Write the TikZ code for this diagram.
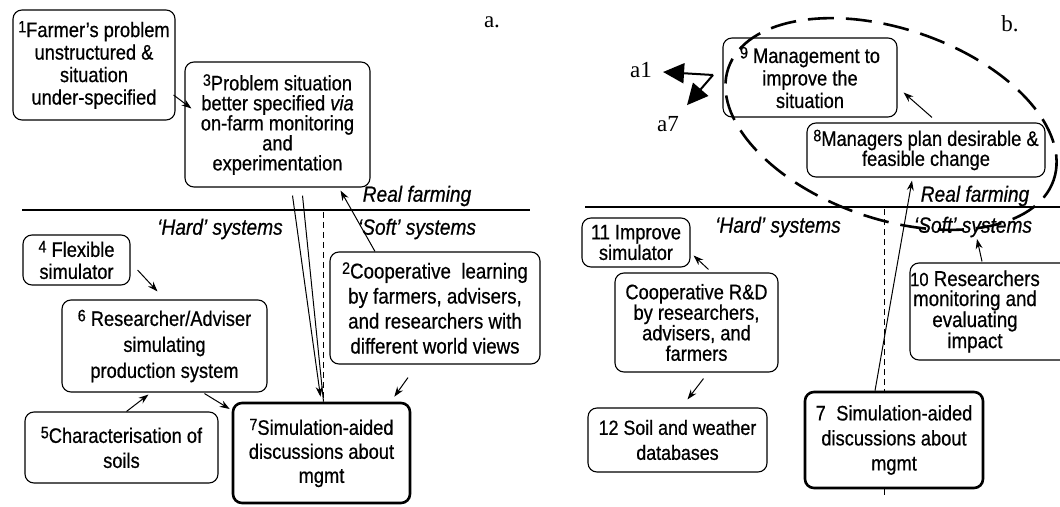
\documentclass[tikz,border=0pt]{standalone}
\usepackage{fontspec}
\setmainfont{Liberation Sans}[FakeStretch=0.87,FakeBold=0.6]
\newfontfamily\panelfont{Liberation Serif}
\usetikzlibrary{arrows.meta,calc}

% raised step number at the start of a box text
\newcommand\nb[1]{\raisebox{0.22em}{\fontsize{16.5}{16.5}\selectfont #1}}
% box text: size and line spacing
\newcommand\boxfont[2]{\fontsize{#1}{#2}\selectfont}

\tikzset{
  box/.style={draw, line width=1.1pt, rounded corners=9pt, inner sep=0pt,
    align=center, fill=white},
  boldbox/.style={box, line width=2.6pt},
  arr/.style={-{Stealth[length=10pt,width=7pt]}, line width=1pt},
  bigarr/.style={-{Triangle[length=21pt,width=20pt]}, line width=2pt},
  zone/.style={font=\fontsize{22}{22}\selectfont\itshape, inner sep=0pt},
  paneltag/.style={font=\panelfont\fontsize{23}{23}\selectfont, inner sep=0pt},
  divider/.style={line width=1.3pt},
  vsplit/.style={dash pattern=on 6pt off 4pt, line width=1pt},
  ring/.style={dash pattern=on 26pt off 12pt, line width=2.6pt}
}

\begin{document}
\begin{tikzpicture}[x=1pt,y=-1pt]
\useasboundingbox (0,0) rectangle (1060,506);

% ---------------- panel a ----------------
\draw[divider] (22,210) -- (530,210);
\coordinate (da) at (323,212);

\node[paneltag] (tagA) at (492,22) {a.};
\node[zone] (realA) at (417,196) {Real farming};
\node[zone] (hardA) at (220,229) {‘Hard’ systems};
\node[zone] (softA) at (417,229) {‘Soft’ systems};

\node[box, font={\boxfont{21}{22.5}}, minimum width=162pt, minimum height=110pt] (n1) at (94,65)
  {\nb{1}Farmer's problem\\unstructured \&\\situation\\under-specified};
\node[box, font={\boxfont{21}{20}}, minimum width=185pt, minimum height=125pt] (n3) at (277.5,124.5)
  {\nb{3}Problem situation\\better specified \textit{via}\\on-farm monitoring\\and\\experimentation};
\node[box, font={\boxfont{21.5}{25}}, minimum width=210pt, minimum height=112pt] (n2) at (435,308)
  {\nb{2}Cooperative\ \ learning\\by farmers, advisers,\\and researchers with\\different world views};
\node[box, font={\boxfont{21}{22}}, minimum width=107pt, minimum height=50pt] (n4) at (76.5,260)
  {\nb{4}\ Flexible\\simulator};
\node[box, font={\boxfont{21}{26}}, minimum width=205pt, minimum height=92pt] (n6) at (164.5,346)
  {\nb{6}\ Researcher/Adviser\\simulating\\production system};
\node[box, font={\boxfont{21}{25}}, minimum width=193pt, minimum height=71pt] (n5) at (121.5,447.5)
  {\nb{5}Characterisation of\\soils};

\draw[vsplit] (da) -- ($(n3.south)+(45.5,278.5)$) coordinate (db);
\node[boldbox, font={\boxfont{21}{24}}, minimum width=177pt, minimum height=100pt] (n7a) at (321.5,453)
  {\nb{7}Simulation-aided\\discussions about\\mgmt};

\draw[arr] ($(n1.east)+(-2,30)$) -- ($(n3.west)+(7,-16)$);
\draw[arr] ($(n3.south)+(15,8)$) -- ($(n7a.north)+(-1,-5)$);
\draw[line width=1pt] ($(n3.south)+(25,8)$) -- ($(n7a.north)+(2,0)$);
\draw[arr] ($(n2.north)+(-60,0)$) -- ($(n3.south east)+(-30,3)$);
\draw[arr] ($(n4.east)+(7,10)$) -- ($(n6.north)+(-7,-8)$);
\draw[arr] ($(n5.north)+(5,0)$) -- ($(n6.south)+(-16,2)$);
\draw[arr] ($(n6.south)+(40,1)$) -- ($(n7a.west)+(-2,-44)$);
\draw[arr] ($(n2.south)+(-27,13)$) -- ($(n7a.north east)+(-17,-5)$);

% ---------------- panel b ----------------
\draw[divider] (585,207) -- (1060,207);
\coordinate (dc) at (884,209);
\coordinate (dd) at (884,496);
\draw[vsplit] (dc) -- (dd);

\node[paneltag] (tagB) at (1010,24) {b.};
\node[paneltag] (a1) at (641,70) {a1};
\node[paneltag] (a7) at (668,124) {a7};
\node[zone] (realB) at (975,196) {Real farming};
\node[zone] (hardB) at (778,227) {‘Hard’ systems};
\node[zone] (softB) at (973,227) {‘Soft’ systems};

\node[box, font={\boxfont{21}{22.5}}, minimum width=174pt, minimum height=79pt] (n9) at (810,77.5)
  {\nb{9}\ Management to\\improve the\\situation};
\node[box, font={\boxfont{21}{20}}, minimum width=238pt, minimum height=54pt] (n8) at (926,150)
  {\nb{8}Managers plan desirable \&\\feasible change};
\node[box, font={\boxfont{21}{18}}, minimum width=108pt, minimum height=49pt] (n11) at (636,242.5)
  {11 Improve\\simulator};
\node[box, font={\boxfont{21}{20.5}}, minimum width=163pt, minimum height=99pt] (rd) at (696.5,322.5)
  {Cooperative R\&D\\by researchers,\\advisers, and\\farmers};
\node[box, font={\boxfont{20.5}{25}}, minimum width=179pt, minimum height=64pt] (n12) at (677.5,440)
  {12 Soil and weather\\databases};
\node[boldbox, font={\boxfont{21}{25}}, minimum width=178pt, minimum height=96pt] (n7b) at (894,440)
  {7\enspace Simulation-aided\\discussions about\\mgmt};
\node[draw, line width=1.1pt, rounded corners=9pt, inner sep=0pt, fill=white,
      font={\boxfont{21.5}{20}}, minimum width=165pt, minimum height=97pt] (n10) at (992.5,311.5)
  {\hspace*{-35pt}\parbox{160pt}{\centering {\fontsize{19}{19}\selectfont 10} Researchers\\monitoring and\\evaluating\\impact}};

\coordinate (v) at (713,75);
\draw[bigarr] (v) -- ($(a1.east)+(11,2)$);
\draw[bigarr] (v) -- ($(a7.north)+(19,-11)$);

\coordinate (t10) at (977,239);
\draw[arr] ($(n8.north)+(6,-5)$) -- ($(n9.east)+(6,15)$);
\draw[arr] ($(n7b.north)+(-19,0)$) -- ($(n8.south)+(-14,3)$);
\draw[arr] ($(n10.north)+(-10.5,-1)$) -- (t10);
\draw[arr] ($(rd.north)+(12,-3)$) -- ($(n11.east)+(3,13)$);
\draw[arr] ($(rd.south)+(7,6)$) -- ($(n12.north)+(10,-8)$);

% scope of the management loop
\coordinate (ec) at (891,124);
\draw[ring, rotate around={-19:(ec)}] (ec) ellipse [x radius=172pt, y radius=95pt];
\end{tikzpicture}
\end{document}
